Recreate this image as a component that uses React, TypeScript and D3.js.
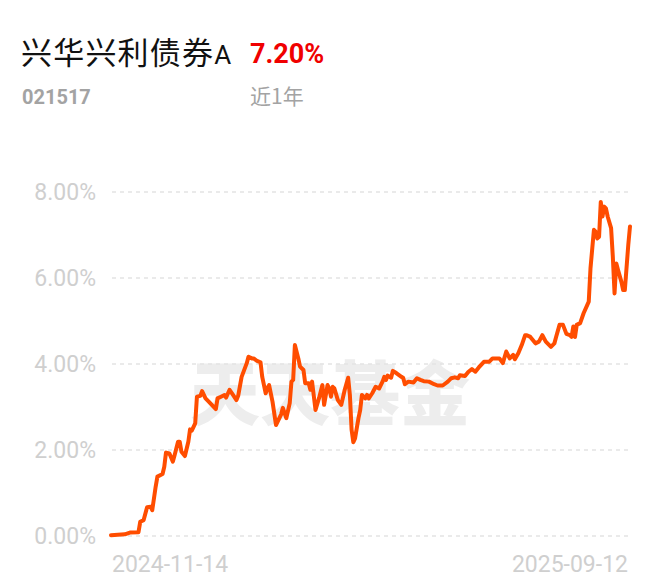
import React from "react";
import * as d3 from "d3";

const fundName = "兴华兴利债券";
const fundClass = "A";
const fundCode = "021517";
const periodReturn = "7.20%";
const periodLabel = "近1年";
const watermark = "天天基金";

const xTickLabels = ["2024-11-14", "2025-09-12"];
const totalDays = 302;
const yTicks = [0, 2, 4, 6, 8];

// calendar days since 2024-11-14
const dayOffsets = [
  0, 8, 11, 16, 17, 19, 21, 23, 24, 26, 27, 30, 31, 32, 34, 36, 37, 39, 40, 41,
  43, 45, 46, 47, 49, 50, 52, 53, 55, 57, 61, 62, 64, 66, 67, 69, 71, 73, 74, 76,
  79, 80, 82, 83, 85, 87, 88, 90, 91, 92, 94, 96, 99, 100, 102, 104, 105, 106, 107, 109,
  110, 112, 113, 115, 116, 117, 119, 121, 123, 124, 126, 127, 128, 129, 130, 132, 134, 136, 138, 139,
  140, 141, 142, 144, 145, 146, 148, 149, 150, 152, 154, 156, 158, 159, 160, 161, 163, 164, 166, 167,
  169, 170, 171, 173, 176, 178, 180, 182, 185, 188, 190, 193, 196, 198, 200, 202, 203, 206, 208, 210,
  212, 214, 217, 220, 222, 224, 226, 228, 230, 232, 234, 235, 237, 239, 241, 242, 244, 247, 249, 251,
  253, 256, 258, 259, 261, 263, 265, 267, 268, 269, 270, 271, 273, 275, 278, 279, 281, 282, 283, 284,
  285, 286, 287, 288, 289, 291, 292, 293, 294, 295, 297, 298, 299, 301, 302,
];

// cumulative return, %
const returns = [
  0.02, 0.04, 0.08, 0.09, 0.33, 0.37, 0.67, 0.68, 0.6, 1.15, 1.38, 1.44, 1.61, 1.94, 1.92, 1.73, 1.88, 2.19, 2.19, 1.96,
  1.86, 2.19, 2.48, 2.45, 2.62, 3.24, 3.26, 3.37, 3.2, 3.12, 2.95, 3.2, 3.24, 3.28, 3.22, 3.4, 3.28, 3.16, 3.26, 3.7,
  4.02, 4.17, 4.13, 4.13, 4.07, 4.04, 3.7, 3.32, 3.43, 3.51, 3.12, 2.58, 2.83, 2.98, 2.74, 3.09, 3.59, 3.63, 4.44, 4.13,
  3.94, 3.86, 3.55, 3.55, 3.4, 3.59, 2.93, 3.2, 3.51, 3.05, 3.51, 3.43, 3.24, 3.47, 3.43, 3.16, 3.05, 3.4, 3.68, 3.28,
  2.47, 2.18, 2.27, 2.74, 2.93, 3.28, 3.2, 3.28, 3.2, 3.32, 3.47, 3.43, 3.59, 3.7, 3.63, 3.73, 3.68, 3.84, 3.79, 3.76,
  3.7, 3.68, 3.53, 3.59, 3.57, 3.67, 3.63, 3.6, 3.59, 3.53, 3.5, 3.5, 3.59, 3.67, 3.69, 3.67, 3.74, 3.72, 3.82, 3.88,
  3.82, 3.92, 4.05, 4.05, 4.13, 4.13, 4.13, 4.02, 4.29, 4.13, 4.21, 4.11, 4.25, 4.44, 4.67, 4.67, 4.63, 4.48, 4.52, 4.67,
  4.52, 4.4, 4.48, 4.63, 4.91, 4.91, 4.7, 4.67, 4.63, 4.87, 4.63, 4.91, 4.95, 5.18, 5.45, 6.22, 7.12, 7.08, 6.92, 6.96,
  7.77, 7.43, 7.66, 7.62, 7.43, 7.16, 6.5, 5.64, 6.34, 6.19, 5.91, 5.72, 5.72, 6.77, 7.2,
];

const W = 660;
const H = 585;
const plot = { left: 111, right: 630, top: 192, bottom: 536 };
const numFont = "Roboto, 'Noto Sans', sans-serif";
const cjkFont = "'Noto Sans CJK SC', 'Noto Sans', sans-serif";
const lineColor = "#FF4D00";

export default function App() {
  const x = d3.scaleLinear().domain([0, totalDays]).range([plot.left, plot.right]);
  const y = d3.scaleLinear().domain([0, 8]).range([plot.bottom, plot.top]);
  const data = dayOffsets.map((d, i) => [d, returns[i]] as [number, number]);
  const line = d3
    .line<[number, number]>()
    .x((d) => x(d[0]))
    .y((d) => y(d[1]));

  return (
    <svg
      width={W}
      height={H}
      style={{ position: "absolute", left: 0, top: 0, background: "#fff" }}
    >
      <rect width={W} height={H} fill="#fff" />
      {/* header */}
      <text x={21} y={64} fontFamily={cjkFont} fill="#111">
        <tspan fontSize={31} letterSpacing={1.2}>{fundName}</tspan>
        <tspan fontSize={26} fontFamily={numFont}>{fundClass}</tspan>
      </text>
      <text x={250} y={63} fontFamily={numFont} fontSize={27} fontWeight={700} fill="#F00000">
        {periodReturn}
      </text>
      <text x={22} y={104} fontFamily={numFont} fontSize={20} fontWeight={700} fill="#a3a3a3">
        {fundCode}
      </text>
      <text x={250} y={104} fontFamily={cjkFont} fontSize={21} fill="#a3a3a3">
        {periodLabel}
      </text>

      {/* watermark */}
      <text
        x={330}
        y={420}
        textAnchor="middle"
        fontFamily={cjkFont}
        fontWeight={900}
        fontSize={70}
        fill="#ededed"
      >
        {watermark}
      </text>

      {/* grid + y labels */}
      {yTicks.map((t) => (
        <g key={t}>
          <line
            x1={plot.left + 1}
            x2={plot.right - 2}
            y1={y(t)}
            y2={y(t)}
            stroke="#e3e3e3"
            strokeWidth={1.5}
            strokeDasharray="4 4"
          />
          <text
            x={96}
            y={y(t) + 8}
            textAnchor="end"
            fontFamily={numFont}
            fontSize={23}
            fill="#cfcfcf"
          >
            {t.toFixed(2) + "%"}
          </text>
        </g>
      ))}

      {/* x labels */}
      <text x={x(0) + 1} y={572} fontFamily={numFont} fontSize={23} fill="#cfcfcf">
        {xTickLabels[0]}
      </text>
      <text
        x={x(totalDays) - 2}
        y={572}
        textAnchor="end"
        fontFamily={numFont}
        fontSize={23}
        fill="#cfcfcf"
      >
        {xTickLabels[1]}
      </text>

      {/* series */}
      <path
        d={line(data) || ""}
        fill="none"
        stroke={lineColor}
        strokeWidth={4}
        strokeLinejoin="round"
        strokeLinecap="round"
      />
    </svg>
  );
}
